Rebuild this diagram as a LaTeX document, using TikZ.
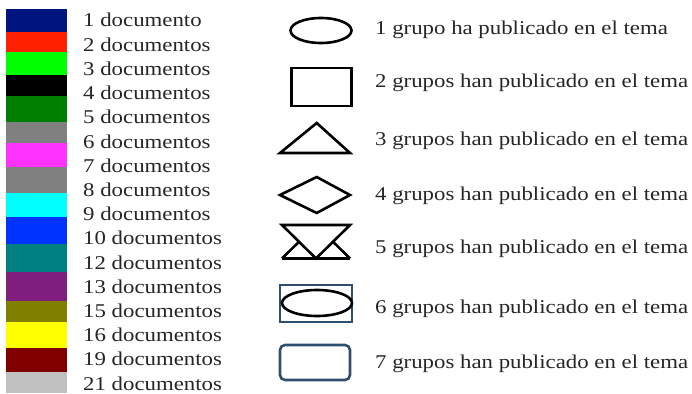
\documentclass[tikz,border=0pt]{standalone}
\usepackage{fontspec}
\setmainfont[FakeStretch=1.17]{Liberation Serif}
\usetikzlibrary{calc}

\definecolor{azulmarino}{RGB}{0,20,128}
\definecolor{rojo}{RGB}{255,32,0}
\definecolor{verdeclaro}{RGB}{0,255,0}
\definecolor{verdeoscuro}{RGB}{0,128,0}
\definecolor{gris}{RGB}{128,128,128}
\definecolor{magenta2}{RGB}{255,51,255}
\definecolor{cian}{RGB}{0,255,255}
\definecolor{azul}{RGB}{0,51,255}
\definecolor{verdeazul}{RGB}{0,128,128}
\definecolor{morado}{RGB}{128,30,128}
\definecolor{oliva}{RGB}{128,128,0}
\definecolor{amarillo}{RGB}{255,255,0}
\definecolor{granate}{RGB}{128,0,0}
\definecolor{plata}{RGB}{192,192,192}
\definecolor{bordeazul}{RGB}{47,79,111}

\tikzset{
  etiqueta/.style={inner sep=0pt, anchor=base west, text=black!85, font=\fontsize{19.5}{20}\selectfont},
  forma/.style={line width=2.6pt, black, line join=miter},
  formaazul/.style={line width=2.6pt, bordeazul}
}

\begin{document}
\begin{tikzpicture}[x=1pt,y=-1pt]
\useasboundingbox (0,0) rectangle (692,393);

% barras de color
\foreach \c/\ya/\yb in {azulmarino/9.5/32, rojo/32/52, verdeclaro/52/75, black/75/96,
    verdeoscuro/96/122, gris/122/143, magenta2/143/167, gris/167/193, cian/193/217,
    azul/217/244, verdeazul/244/272, morado/272/301, oliva/301/322, amarillo/322/348,
    granate/348/372, plata/372/393}
  \fill[\c] (6,\ya) rectangle (67,\yb);

% numero de documentos
\foreach \t [count=\i from 0] in {1 documento, 2 documentos, 3 documentos, 4 documentos,
    5 documentos, 6 documentos, 7 documentos, 8 documentos, 9 documentos, 10 documentos,
    12 documentos, 13 documentos, 15 documentos, 16 documentos, 19 documentos, 21 documentos}
  \node[etiqueta] (doc\i) at (83,{27+24.2*\i}) {\t};

% formas
\draw[forma] (321,30.5) ellipse (30.5 and 12.5);
\draw[forma] (291.7,68) rectangle (351.7,106);
\draw[forma] (280,153) -- (316.7,123) -- (350,153) -- cycle;
\draw[forma] (280,195) -- (316.7,177) -- (350,195) -- (316.7,213) -- cycle;
\draw[forma] (282,225) -- (350,225) -- (316,258.5) -- cycle;
\draw[forma] (282,258.5) -- (350,258.5);
\draw[forma] (282,258.5) -- (299,241.7);
\draw[forma] (350,258.5) -- (333,241.7);
\draw[formaazul] (280,285) rectangle (352,322);
\draw[forma] (317,303) ellipse (35 and 13);
\draw[formaazul, rounded corners=5pt] (280,345) rectangle (350,380);

% grupos
\node[etiqueta] (g1) at (375,35) {1 grupo ha publicado en el tema};
\node[etiqueta] (g2) at (375,88) {2 grupos han publicado en el tema};
\node[etiqueta] (g3) at (375,145) {3 grupos han publicado en el tema};
\node[etiqueta] (g4) at (375,200) {4 grupos han publicado en el tema};
\node[etiqueta] (g5) at (375,253) {5 grupos han publicado en el tema};
\node[etiqueta] (g6) at (375,313) {6 grupos han publicado en el tema};
\node[etiqueta] (g7) at (375,368) {7 grupos han publicado en el tema};
\end{tikzpicture}
\end{document}
